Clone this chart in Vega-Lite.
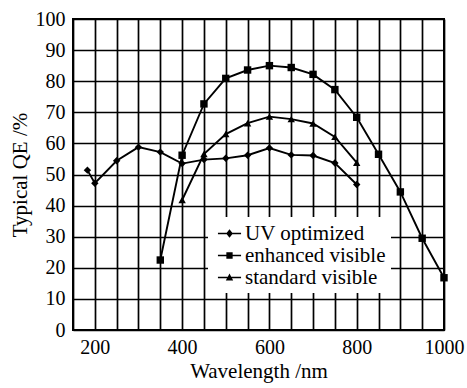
{
  "$schema": "https://vega.github.io/schema/vega-lite/v6.json",
  "width": 371,
  "height": 311,
  "autosize": "none",
  "padding": {"left": 73, "top": 19, "right": 23, "bottom": 58},
  "background": "white",
  "config": {
    "view": {"stroke": "black", "strokeWidth": 2},
    "font": "'Liberation Serif', serif",
    "axis": {
      "domain": false,
      "ticks": false,
      "grid": true,
      "gridColor": "black",
      "gridOpacity": 1,
      "gridWidth": 1.7,
      "labelFont": "'Liberation Serif', serif",
      "labelFontSize": 20,
      "labelColor": "black",
      "titleFont": "'Liberation Serif', serif",
      "titleFontSize": 21,
      "titleFontWeight": "normal",
      "titleColor": "black"
    }
  },
  "data": {
    "values": [
      {"series": "UV optimized", "wavelength": 183, "qe": 51.4},
      {"series": "UV optimized", "wavelength": 200, "qe": 47.2},
      {"series": "UV optimized", "wavelength": 250, "qe": 54.4},
      {"series": "UV optimized", "wavelength": 300, "qe": 58.8},
      {"series": "UV optimized", "wavelength": 350, "qe": 57.2},
      {"series": "UV optimized", "wavelength": 400, "qe": 53.5},
      {"series": "UV optimized", "wavelength": 450, "qe": 54.8},
      {"series": "UV optimized", "wavelength": 500, "qe": 55.2},
      {"series": "UV optimized", "wavelength": 550, "qe": 56.2},
      {"series": "UV optimized", "wavelength": 600, "qe": 58.5},
      {"series": "UV optimized", "wavelength": 650, "qe": 56.3},
      {"series": "UV optimized", "wavelength": 700, "qe": 56.1},
      {"series": "UV optimized", "wavelength": 750, "qe": 53.7},
      {"series": "UV optimized", "wavelength": 800, "qe": 46.8},
      {"series": "enhanced visible", "wavelength": 350, "qe": 22.5},
      {"series": "enhanced visible", "wavelength": 400, "qe": 56.2},
      {"series": "enhanced visible", "wavelength": 450, "qe": 72.7},
      {"series": "enhanced visible", "wavelength": 500, "qe": 80.9},
      {"series": "enhanced visible", "wavelength": 550, "qe": 83.6},
      {"series": "enhanced visible", "wavelength": 600, "qe": 85.0},
      {"series": "enhanced visible", "wavelength": 650, "qe": 84.4},
      {"series": "enhanced visible", "wavelength": 700, "qe": 82.2},
      {"series": "enhanced visible", "wavelength": 750, "qe": 77.3},
      {"series": "enhanced visible", "wavelength": 800, "qe": 68.4},
      {"series": "enhanced visible", "wavelength": 850, "qe": 56.5},
      {"series": "enhanced visible", "wavelength": 900, "qe": 44.4},
      {"series": "enhanced visible", "wavelength": 950, "qe": 29.5},
      {"series": "enhanced visible", "wavelength": 1000, "qe": 16.8},
      {"series": "standard visible", "wavelength": 400, "qe": 41.8},
      {"series": "standard visible", "wavelength": 450, "qe": 56.6},
      {"series": "standard visible", "wavelength": 500, "qe": 63.0},
      {"series": "standard visible", "wavelength": 550, "qe": 66.5},
      {"series": "standard visible", "wavelength": 600, "qe": 68.6},
      {"series": "standard visible", "wavelength": 650, "qe": 67.8},
      {"series": "standard visible", "wavelength": 700, "qe": 66.4},
      {"series": "standard visible", "wavelength": 750, "qe": 62.1},
      {"series": "standard visible", "wavelength": 800, "qe": 53.8}
    ]
  },
  "encoding": {
    "x": {
      "field": "wavelength",
      "type": "quantitative",
      "scale": {"domain": [150, 1000], "nice": false, "zero": false},
      "axis": {
        "title": "Wavelength /nm",
        "values": [150, 200, 250, 300, 350, 400, 450, 500, 550, 600, 650, 700, 750, 800, 850, 900, 950, 1000],
        "format": "d",
        "labelExpr": "datum.value % 200 == 0 ? datum.label : ''",
        "labelPadding": 7,
        "titlePadding": 3,
        "labelFlush": false,
        "labelOverlap": false
      }
    },
    "y": {
      "field": "qe",
      "type": "quantitative",
      "scale": {"domain": [0, 100], "nice": false},
      "axis": {
        "title": "Typical QE /%",
        "values": [0, 10, 20, 30, 40, 50, 60, 70, 80, 90, 100],
        "labelPadding": 8,
        "titlePadding": 5,
        "labelOverlap": false
      }
    }
  },
  "layer": [
    {
      "mark": {"type": "line", "color": "black", "strokeWidth": 1.9},
      "encoding": {"detail": {"field": "series"}}
    },
    {
      "mark": {"type": "point", "filled": true, "color": "black", "opacity": 1, "size": 55},
      "encoding": {
        "shape": {
          "field": "series",
          "scale": {
            "domain": ["UV optimized", "enhanced visible", "standard visible"],
            "range": ["diamond", "square", "triangle-up"]
          },
          "legend": null
        }
      }
    },
    {
      "mark": {"type": "point", "filled": true, "color": "black", "opacity": 0, "size": 441},
      "encoding": {
        "shape": {
          "field": "series",
          "scale": {
            "domain": ["UV optimized", "enhanced visible", "standard visible"],
            "range": [
              "M-1.1,-0.08L1.1,-0.08L1.1,0.08L-1.1,0.08ZM0,-0.4L0.32,0L0,0.4L-0.32,0Z",
              "M-1.1,-0.08L1.1,-0.08L1.1,0.08L-1.1,0.08ZM-0.3,-0.3L0.3,-0.3L0.3,0.3L-0.3,0.3Z",
              "M-1.1,-0.08L1.1,-0.08L1.1,0.08L-1.1,0.08ZM0,-0.38L0.35,0.28L-0.35,0.28Z"
            ]
          },
          "legend": {
            "title": null,
            "orient": "none",
            "legendX": 135,
            "legendY": 198,
            "fillColor": "white",
            "padding": 5,
            "rowPadding": 0,
            "symbolOffset": 5,
            "labelFont": "'Liberation Serif', serif",
            "labelFontSize": 21,
            "labelColor": "black",
            "labelOffset": 4,
            "symbolSize": 441,
            "symbolFillColor": "black",
            "symbolOpacity": 1,
            "encode": {
              "symbols": {
                "update": {
                  "opacity": {"value": 1},
                  "fillOpacity": {"value": 1},
                  "fill": {"value": "black"}
                }
              }
            }
          }
        }
      }
    }
  ],
  "resolve": {"scale": {"shape": "independent"}}
}
